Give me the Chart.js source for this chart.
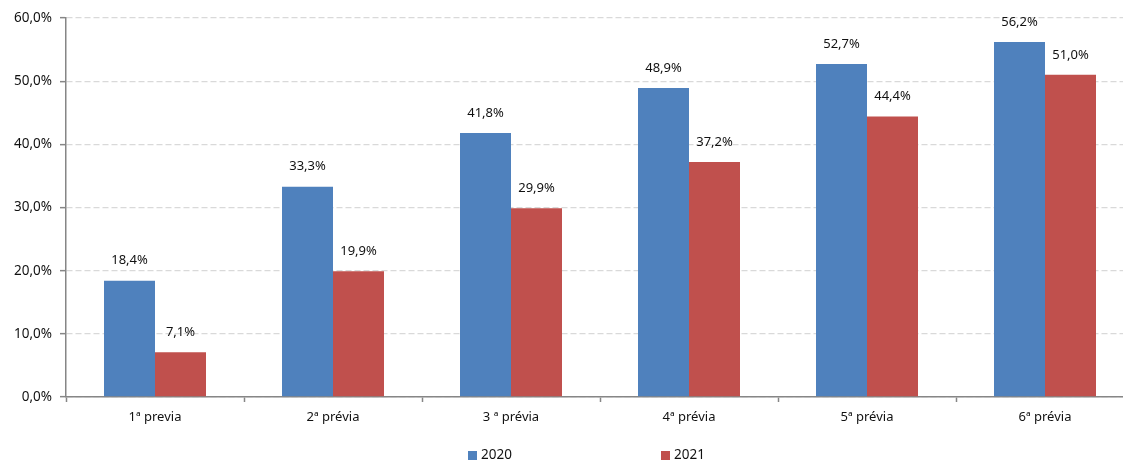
<!DOCTYPE html>
<html>
<head>
<meta charset="utf-8">
<script src="https://cdn.jsdelivr.net/npm/chart.js@4.4.0/dist/chart.umd.min.js"></script>
<style>
html,body{margin:0;padding:0;background:#fff;overflow:hidden;width:1123px;height:461px;}
canvas{display:block;}
</style>
</head>
<body>
<canvas id="c" width="1140" height="461"></canvas>
<script>
const categories = ["1ª previa", "2ª prévia", "3 ª prévia", "4ª prévia", "5ª prévia", "6ª prévia"];
const values2020 = [18.4, 33.3, 41.8, 48.9, 52.7, 56.2];
const values2021 = [7.1, 19.9, 29.9, 37.2, 44.4, 51.0];
const seriesNames = ["2020", "2021"];
const yTicks = [0, 10, 20, 30, 40, 50, 60];

const FONT = "'Noto Sans', sans-serif";
const fmt = v => v.toFixed(1).replace('.', ',') + '%';

const labelPlugin = {
  id: 'vlabels',
  afterDatasetsDraw(chart) {
    const ctx = chart.ctx;
    ctx.save();
    ctx.font = "13px " + FONT;
    ctx.fillStyle = '#111';
    ctx.textAlign = 'center';
    ctx.textBaseline = 'middle';
    chart.data.datasets.forEach((ds, i) => {
      chart.getDatasetMeta(i).data.forEach((bar, j) => {
        ctx.fillText(fmt(ds.data[j]), bar.x, bar.y - 20);
      });
    });
    ctx.restore();
  }
};

const legendPlugin = {
  id: 'customLegend',
  afterDraw(chart) {
    const ctx = chart.ctx;
    const xs = [468, 661];
    ctx.save();
    ctx.font = "13.5px " + FONT;
    ctx.textBaseline = 'middle';
    chart.data.datasets.forEach((ds, i) => {
      ctx.fillStyle = ds.backgroundColor;
      ctx.fillRect(xs[i], 451, 9, 9);
      ctx.fillStyle = '#111';
      ctx.textAlign = 'left';
      ctx.fillText(ds.label, xs[i] + 13, 455.5);
    });
    ctx.restore();
  }
};

new Chart(document.getElementById('c'), {
  type: 'bar',
  data: {
    labels: categories,
    datasets: [
      { label: seriesNames[0], data: values2020, backgroundColor: '#4F81BD' },
      { label: seriesNames[1], data: values2021, backgroundColor: '#C0504D' }
    ]
  },
  options: {
    responsive: false,
    animation: false,
    devicePixelRatio: 1,
    layout: { padding: { top: 18, right: 6, bottom: 34, left: 0 } },
    datasets: { bar: { categoryPercentage: 0.573, barPercentage: 1.0 } },
    plugins: { legend: { display: false }, tooltip: { enabled: false } },
    scales: {
      x: {
        grid: { drawOnChartArea: false, offset: true, tickLength: 5, tickColor: '#868686', tickWidth: 1.5 },
        border: { color: '#868686', width: 1.5 },
        ticks: { color: '#111', font: { family: FONT, size: 13 }, padding: 7, maxRotation: 0 },
        afterFit(s) { s.height = 30; }
      },
      y: {
        min: 0, max: 60,
        afterBuildTicks(s) { s.ticks = yTicks.map(v => ({ value: v })); },
        grid: { color: '#d9d9d9', lineWidth: 1.3, tickLength: 6, tickColor: '#868686', tickWidth: 1.5, tickBorderDash: [] },
        border: { color: '#868686', width: 1.5, dash: [6, 3] },
        ticks: { color: '#111', font: { family: FONT, size: 13.5 }, padding: 8, callback: v => fmt(v) },
        afterFit(s) { s.width = 66; }
      }
    }
  },
  plugins: [labelPlugin, legendPlugin]
});
</script>
</body>
</html>
